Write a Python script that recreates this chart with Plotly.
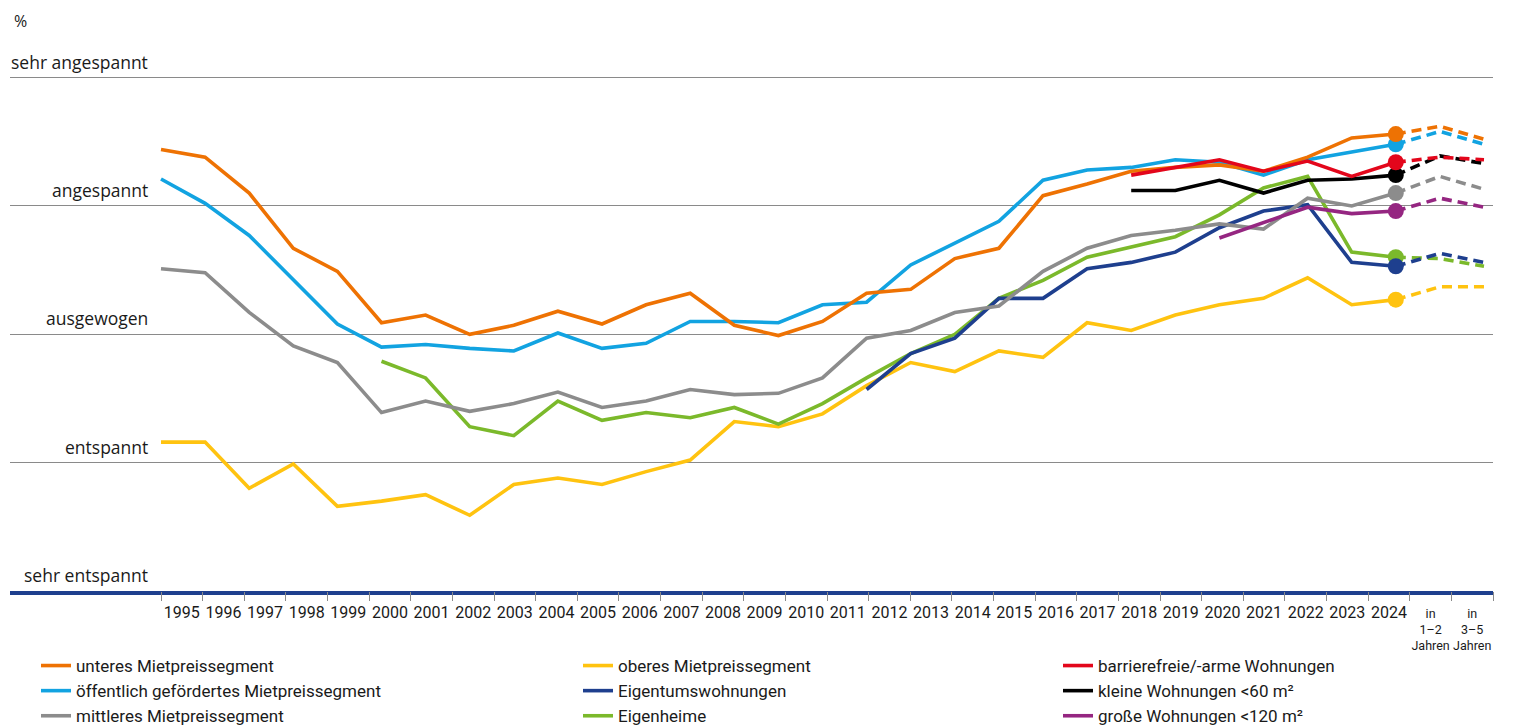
import plotly.graph_objects as go

# ---------------- data ----------------
year_labels = [str(y) for y in range(1995, 2025)]
forecast_labels = [["in", "1–2", "Jahren"], ["in", "3–5", "Jahren"]]
level_labels = ["sehr entspannt", "entspannt", "ausgewogen", "angespannt", "sehr angespannt"]
level_values = [0, 1, 2, 3, 4]

# index of survey wave along the time axis (0 = 1995 ... 28 = 2024), forecasts at 29, 30
wave_pos = list(range(29))
forecast_pos = [28, 29, 30]

unteres = [3.44, 3.38, 3.10, 2.67, 2.49, 2.09, 2.15, 2.00, 2.07, 2.18, 2.08, 2.23, 2.32, 2.07, 1.99,
           2.10, 2.32, 2.35, 2.59, 2.67, 3.08, 3.17, 3.27, 3.30, 3.32, 3.27, 3.38, 3.53, 3.56]
unteres_prog = [3.62, 3.52]

oeffentlich = [3.21, 3.02, 2.77, 2.42, 2.08, 1.90, 1.92, 1.89, 1.87, 2.01, 1.89, 1.93, 2.10, 2.10, 2.09,
               2.23, 2.25, 2.54, 2.71, 2.88, 3.20, 3.28, 3.30, 3.36, 3.34, 3.24, 3.36, 3.42, 3.48]
oeffentlich_prog = [3.58, 3.48]

mittleres = [2.51, 2.48, 2.17, 1.91, 1.78, 1.39, 1.48, 1.40, 1.46, 1.55, 1.43, 1.48, 1.57, 1.53, 1.54,
             1.66, 1.97, 2.03, 2.17, 2.22, 2.49, 2.67, 2.77, 2.81, 2.86, 2.82, 3.06, 3.00, 3.10]
mittleres_prog = [3.23, 3.13]

oberes = [1.16, 1.16, 0.80, 0.99, 0.66, 0.70, 0.75, 0.59, 0.83, 0.88, 0.83, 0.93, 1.02, 1.32, 1.28,
          1.38, 1.60, 1.78, 1.71, 1.87, 1.82, 2.09, 2.03, 2.15, 2.23, 2.28, 2.44, 2.23, 2.27]
oberes_prog = [2.37, 2.37]

eigenheime_start = 5
eigenheime = [1.79, 1.66, 1.28, 1.21, 1.48, 1.33, 1.39, 1.35, 1.43, 1.30, 1.46, 1.66, 1.85, 2.00,
              2.28, 2.42, 2.60, 2.68, 2.76, 2.93, 3.14, 3.23, 2.64, 2.60]
eigenheime_prog = [2.59, 2.53]

eigentum_start = 16
eigentum = [1.57, 1.85, 1.97, 2.28, 2.28, 2.51, 2.56, 2.64, 2.83, 2.96, 3.01, 2.56, 2.53]
eigentum_prog = [2.63, 2.56]

barrierefrei_start = 22
barrierefrei = [3.24, 3.30, 3.36, 3.27, 3.35, 3.23, 3.34]
barrierefrei_prog = [3.38, 3.36]

klein_start = 22
klein = [3.12, 3.12, 3.20, 3.10, 3.20, 3.21, 3.24]
klein_prog = [3.39, 3.33]

gross_start = 24
gross = [2.75, 2.87, 2.99, 2.94, 2.96]
gross_prog = [3.06, 2.99]

# ---------------- styling ----------------
C_ORANGE = "#EE7203"
C_BLUE = "#12A3E1"
C_GRAY = "#8C8C8C"
C_YELLOW = "#FFC310"
C_NAVY = "#1E3F8E"
C_GREEN = "#7BB92B"
C_RED = "#E3061B"
C_BLACK = "#000000"
C_PURPLE = "#952681"

# category texts: years in a 16px span, forecast labels in the small base font (tight line spacing)
axis_categories = ["<span style='font-size:16px'>{}</span>".format(y) for y in year_labels] + \
                  ["<br>".join(parts) for parts in forecast_labels]

# (name, color, start, values, forecast, legend, rank) — drawing order
series = [
    ("oberes Mietpreissegment", C_YELLOW, 0, oberes, oberes_prog, "legend2", 1),
    ("Eigenheime", C_GREEN, eigenheime_start, eigenheime, eigenheime_prog, "legend2", 3),
    ("Eigentumswohnungen", C_NAVY, eigentum_start, eigentum, eigentum_prog, "legend2", 2),
    ("mittleres Mietpreissegment", C_GRAY, 0, mittleres, mittleres_prog, "legend", 3),
    ("große Wohnungen <120 m²", C_PURPLE, gross_start, gross, gross_prog, "legend3", 3),
    ("öffentlich gefördertes Mietpreissegment", C_BLUE, 0, oeffentlich, oeffentlich_prog, "legend", 2),
    ("unteres Mietpreissegment", C_ORANGE, 0, unteres, unteres_prog, "legend", 1),
    ("kleine Wohnungen <60 m²", C_BLACK, klein_start, klein, klein_prog, "legend3", 2),
    ("barrierefreie/-arme Wohnungen", C_RED, barrierefrei_start, barrierefrei, barrierefrei_prog, "legend3", 1),
]

FONT = "Roboto"
LW = 3.6

fig = go.Figure()

# invisible trace that defines the category (label) axis
fig.add_trace(go.Scatter(
    x=axis_categories, y=[0] * len(axis_categories), xaxis="x2", yaxis="y",
    mode="markers", marker=dict(opacity=0, size=1), showlegend=False, hoverinfo="skip"))

for name, color, start, vals, prog, leg, rank in series:
    xs = wave_pos[start:start + len(vals)]
    fig.add_trace(go.Scatter(
        x=xs, y=vals, mode="lines", name=name, legend=leg, legendrank=rank,
        legendgroup=name, line=dict(color=color, width=LW), hoverinfo="skip"))
    fig.add_trace(go.Scatter(
        x=forecast_pos, y=[vals[-1]] + prog, mode="lines", showlegend=False,
        legendgroup=name, line=dict(color=color, width=LW, dash="10px,6px"), hoverinfo="skip"))
    fig.add_trace(go.Scatter(
        x=[xs[-1]], y=[vals[-1]], mode="markers", showlegend=False, legendgroup=name,
        marker=dict(color=color, size=16, line=dict(width=0)), hoverinfo="skip"))

# ---------------- layout ----------------
PLOT_W = 1483.0
PLOT_H = 516.0
annotations = []
for lab, val in zip(level_labels, level_values):
    annotations.append(dict(
        text=lab, xref="paper", yref="y", x=(150 - 10) / PLOT_W, y=val,
        xanchor="right", yanchor="bottom", yshift=2, showarrow=False,
        font=dict(family="Open Sans", size=17.5, color="#1a1a1a")))
annotations.append(dict(
    text="%", xref="paper", yref="paper", x=0.0015, y=(591 - 21) / PLOT_H,
    xanchor="left", yanchor="middle", showarrow=False,
    font=dict(family="Open Sans", size=16, color="#1a1a1a")))

legend_common = dict(
    orientation="v", yanchor="top", y=(591 - 648) / PLOT_H, xanchor="left",
    font=dict(family=FONT, size=17, color="#1a1a1a"), bgcolor="rgba(0,0,0,0)",
    tracegroupgap=0, itemwidth=30, traceorder="normal")

fig.update_layout(
    width=1505, height=720,
    margin=dict(l=2, r=20, t=67, b=137, autoexpand=False),
    paper_bgcolor="white", plot_bgcolor="white",
    showlegend=True,
    legend=dict(legend_common, x=(36 - 10) / PLOT_W),
    legend2=dict(legend_common, x=(578 - 10) / PLOT_W),
    legend3=dict(legend_common, x=(1058 - 10) / PLOT_W),
    xaxis=dict(
        range=[-151 / 44.1, 1332 / 44.1], showgrid=False, zeroline=False,
        showticklabels=False, ticks="", showline=True, linecolor=C_NAVY, linewidth=4,
        fixedrange=True, automargin=False),
    xaxis2=dict(
        type="category", categoryorder="array", categoryarray=axis_categories,
        overlaying="x", anchor="y", side="bottom",
        range=[-0.5 - 151 / 41.62, 31.5], tickson="boundaries",
        ticks="outside", ticklen=9, tickcolor="#8a8a8a", tickwidth=1,
        ticklabelstandoff=13,
        showgrid=False, zeroline=False, showline=False,
        tickfont=dict(family=FONT, size=12.5, color="#1a1a1a"), tickangle=0,
        fixedrange=True, automargin=False),
    yaxis=dict(
        range=[0, 4.02], tickvals=level_values, showticklabels=False,
        showgrid=True, gridcolor="#8a8a8a", gridwidth=1, zeroline=False,
        showline=False, ticks="", fixedrange=True, automargin=False),
    annotations=annotations,
)

fig.write_html("out.html")
